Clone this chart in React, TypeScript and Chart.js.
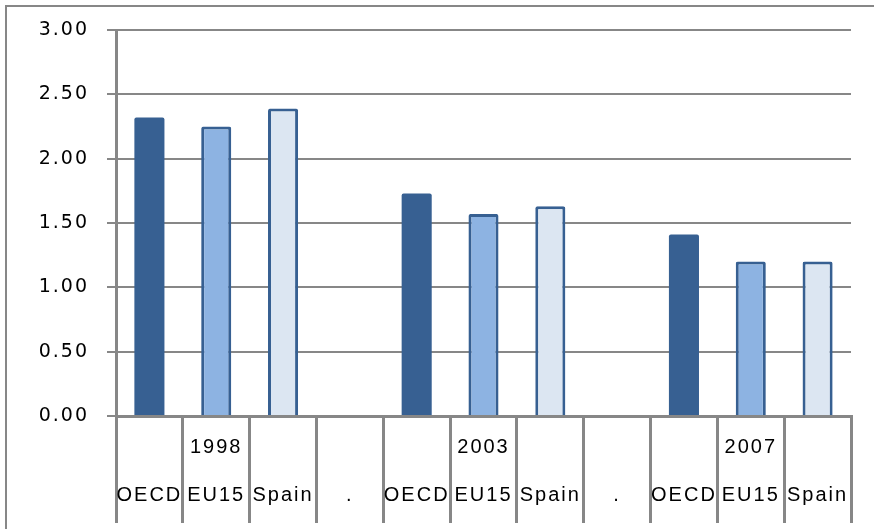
import React, { useEffect, useRef } from "react";
import { Chart, registerables } from "chart.js";

Chart.register(...registerables);

const years = ["1998", "2003", "2007"];
const seriesNames = ["OECD", "EU15", "Spain"];
const oecd = [2.32, 1.73, 1.41];
const eu15 = [2.25, 1.57, 1.2];
const spain = [2.39, 1.63, 1.2];
const separatorLabel = ".";
const yTickMin = 0;
const yTickMax = 3;
const yTickStep = 0.5;

const GRID = "#878787";
const DARK = "#376092";

function buildLabels(): string[][] {
  const out: string[][] = [];
  years.forEach((y, gi) => {
    seriesNames.forEach((n, si) => {
      out.push([si === 1 ? y : "", n]);
    });
    if (gi < years.length - 1) out.push(["", separatorLabel]);
  });
  return out;
}

function buildSeries(values: number[], seriesIndex: number): (number | null)[] {
  const out: (number | null)[] = [];
  years.forEach((_, gi) => {
    seriesNames.forEach((_, si) => {
      out.push(si === seriesIndex ? values[gi] : null);
    });
    if (gi < years.length - 1) out.push(null);
  });
  return out;
}

const frame = {
  id: "frame",
  beforeDraw(chart: any) {
    const ctx = chart.ctx;
    ctx.save();
    ctx.strokeStyle = GRID;
    ctx.lineWidth = 2;
    ctx.beginPath();
    ctx.moveTo(6, chart.height);
    ctx.lineTo(6, 6);
    ctx.lineTo(chart.width, 6);
    ctx.stroke();
    ctx.restore();
    ctx.letterSpacing = "2px";
  },
};

export default function App() {
  const ref = useRef<HTMLCanvasElement | null>(null);
  useEffect(() => {
    if (!ref.current) return;
    const chart = new Chart(ref.current, {
      type: "bar",
      data: {
        labels: buildLabels(),
        datasets: [
          {
            label: seriesNames[0],
            data: buildSeries(oecd, 0),
            backgroundColor: DARK,
            borderColor: DARK,
            borderWidth: 0,
          },
          {
            label: seriesNames[1],
            data: buildSeries(eu15, 1),
            backgroundColor: "#8DB3E2",
            borderColor: DARK,
            borderWidth: 3,
          },
          {
            label: seriesNames[2],
            data: buildSeries(spain, 2),
            backgroundColor: "#DCE6F2",
            borderColor: DARK,
            borderWidth: 3,
          },
        ],
      },
      options: {
        animation: false,
        responsive: true,
        maintainAspectRatio: false,
        layout: { padding: { left: 0, top: 30, right: 23, bottom: 0 } },
        plugins: { legend: { display: false }, tooltip: { enabled: false } },
        datasets: {
          bar: {
            grouped: false,
            categoryPercentage: 1,
            barPercentage: 0.45,
            borderRadius: 2,
            borderSkipped: "start",
          },
        } as any,
        scales: {
          x: {
            offset: true,
            grid: {
              offset: true,
              drawOnChartArea: false,
              drawTicks: true,
              tickLength: 107,
              color: GRID,
              lineWidth: 3,
            },
            border: { display: true, color: GRID, width: 3 },
            ticks: {
              padding: -100,
              autoSkip: false,
              maxRotation: 0,
              color: "#000",
              font: { family: "'Liberation Sans', Arial, sans-serif", size: 20, lineHeight: 48 / 20 },
            },
            afterFit(scale: any) {
              scale.height = 113;
            },
          },
          y: {
            min: yTickMin,
            max: yTickMax,
            grid: {
              color: GRID,
              lineWidth: 2,
              tickLength: 9,
            },
            border: { display: true, color: GRID, width: 3 },
            ticks: {
              stepSize: yTickStep,
              padding: 18,
              color: "#000",
              font: { family: "'DejaVu Sans', Verdana, sans-serif", size: 19 },
              callback: (v: any) => Number(v).toFixed(2),
            },
            afterFit(scale: any) {
              scale.width = 116;
            },
          },
        },
      },
      plugins: [frame],
    });
    return () => chart.destroy();
  }, []);
  return (
    <div style={{ position: "absolute", left: 0, top: 0, width: 874, height: 529, background: "#fff" }}>
      <canvas ref={ref} />
    </div>
  );
}
